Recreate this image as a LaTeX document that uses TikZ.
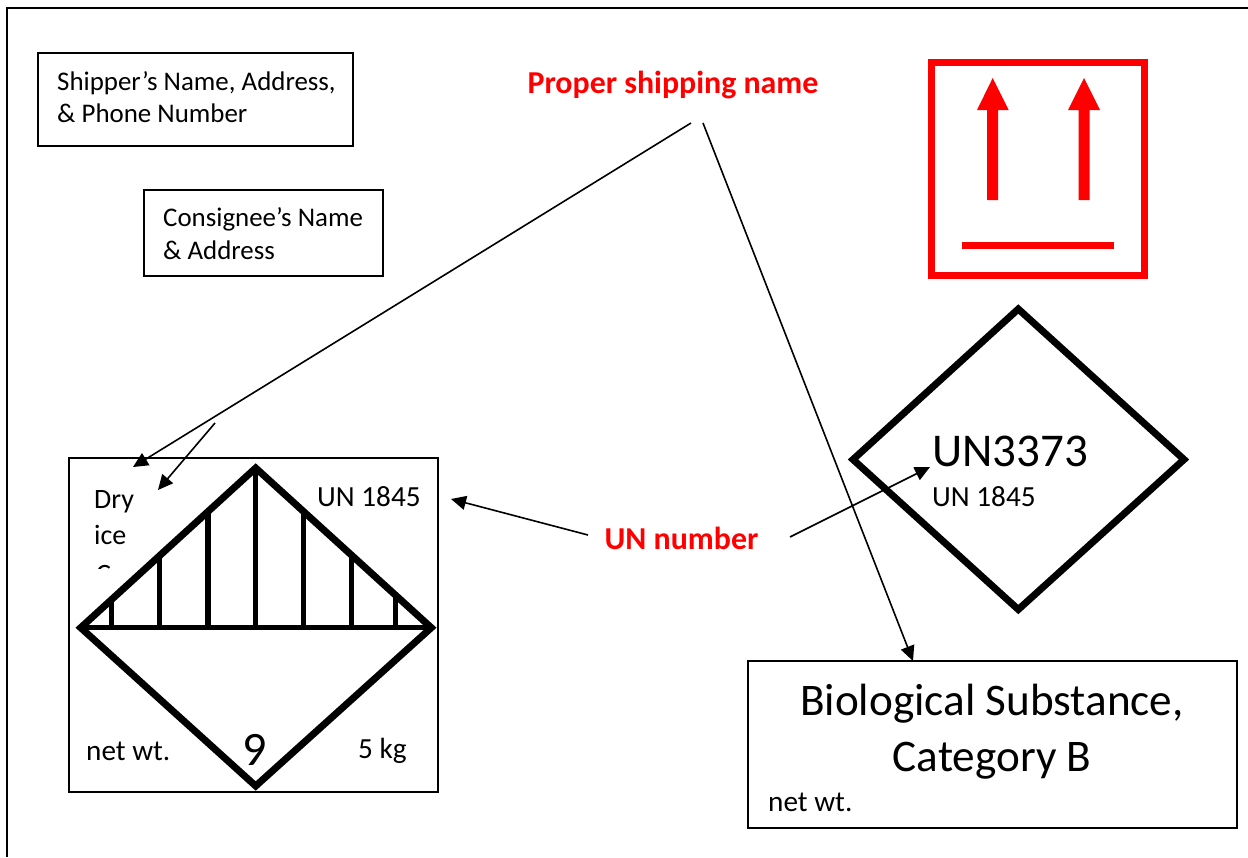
\documentclass[tikz,border=0pt]{standalone}
\usepackage{fontspec}
\setmainfont{Carlito}
\usetikzlibrary{arrows.meta}
\newcommand{\fs}[1]{\fontsize{#1}{#1}\selectfont}
\tikzset{
  x=1pt,y=-1pt,
  box/.style={draw=black,line width=2pt,rectangle,inner sep=0pt,fill=none},
  lab/.style={inner sep=0pt,anchor=base west,font=\fs{26.9},text=black},
  labb/.style={inner sep=0pt,anchor=base west,font=\fs{29.2},text=black},
  big/.style={inner sep=0pt,anchor=base,font=\fs{45.2},text=black},
  red lab/.style={inner sep=0pt,anchor=base,font=\fs{31.9}\bfseries,text=red},
  heavy/.style={draw=black,line width=7pt,miter limit=10,line join=miter},
  bar/.style={draw=black,line width=5.5pt},
  conn/.style={draw=black,line width=1.6pt,-{Triangle[length=15pt,width=14pt]},shorten >=0pt},
}
\begin{document}
\begin{tikzpicture}
\useasboundingbox (0,0) rectangle (1248,857);
\fill[white] (0,0) rectangle (1248,857);
% page frame
\draw[line width=2pt] (7,857) -- (7,7.5) -- (1248,7.5);
% address boxes
\node[box,minimum width=315.5pt,minimum height=92.5pt] (shipper) at (195.25,99.25) {};
\node[lab] (shipperA) at (57,90) {Shipper’s Name, Address,};
\node[lab] (shipperB) at (57,122) {\& Phone Number};
\node[box,minimum width=238.5pt,minimum height=85.5pt] (consignee) at (263.25,232.75) {};
\node[lab] (consigneeA) at (163,226) {Consignee’s Name};
\node[lab] (consigneeB) at (163,259) {\& Address};
% orientation label
\node[draw=red,line width=7pt,rectangle,inner sep=0pt,minimum width=213pt,minimum height=213pt] (orient) at (1038.3,169) {};
\fill[red] (987.2,200) -- (987.2,110) -- (977,110) -- (992.7,78) -- (1008.7,110) -- (998.2,110) -- (998.2,200) -- cycle;
\fill[red] (1078.5,200) -- (1078.5,110) -- (1068,110) -- (1084,78) -- (1100,110) -- (1089.5,110) -- (1089.5,200) -- cycle;
\fill[red] (962.3,242) rectangle (1114.3,248.7);
% dry ice package
\node[box,minimum width=369pt,minimum height=334pt] (dry) at (253.8,624.7) {};
\foreach \x/\t in {111.3/597,159.3/555,208/512,255.7/470,303.7/512,351.7/555,395.7/597}
  \draw[bar] (\x,\t) -- (\x,627.7);
\draw[bar] (80.5,627.7) -- (431.5,627.7);
\draw[heavy] (255.7,468) -- (431.3,627.7) -- (255.7,786) -- (80.7,627.7) -- cycle;
\node[lab,font=\fs{28}] (dryA) at (94,508) {Dry};
\node[lab,font=\fs{28}] (dryB) at (94,544) {ice};
\begin{scope}
  \clip (80,555) rectangle (130,568.5);
  \node[lab,font=\fs{28}] (dryC) at (96,583.5) {C};
\end{scope}
\node[labb] (un1) at (317,506) {UN 1845};
\node[labb] (net1) at (86,760) {net wt.};
\node[labb] (kg) at (358,758) {5 kg};
\node[lab,font=\fs{48}] (nine) at (242,765) {9};
% UN3373 diamond
\draw[heavy] (1018.3,309) -- (1184,459.5) -- (1018.3,609.5) -- (853,459.5) -- cycle;
\node[lab,font=\fs{47}] (un3373) at (932,466) {UN3373};
\node[labb] (un2) at (932,506) {UN 1845};
% biological box
\node[box,minimum width=489pt,minimum height=166.5pt] (bio) at (992.5,744.5) {};
\node[big] (bioA) at (992,715) {Biological Substance,};
\node[big] (bioB) at (992,771) {Category B};
\node[labb] (net2) at (768,811) {net wt.};
% red labels
\node[red lab] (psn) at (673,93) {Proper shipping name};
\node[red lab] (unn) at (681.5,549) {UN number};
% connector ends
\coordinate (psnL) at (691,123);
\coordinate (psnR) at (703,123);
\coordinate (brk) at (215,423);
\coordinate (tipA) at (133,467);
\coordinate (tipB) at (158,490);
\coordinate (tipC) at (913,661);
\coordinate (unL) at (588,535);
\coordinate (unR) at (790,537);
\coordinate (tipD) at (451,499);
\coordinate (tipE) at (930,467);
\draw[conn] (psnL) -- (tipA);
\draw[conn] (brk) -- (tipB);
\draw[conn] (psnR) -- (tipC);
\draw[conn] (unL) -- (tipD);
\draw[conn] (unR) -- (tipE);
\end{tikzpicture}
\end{document}
